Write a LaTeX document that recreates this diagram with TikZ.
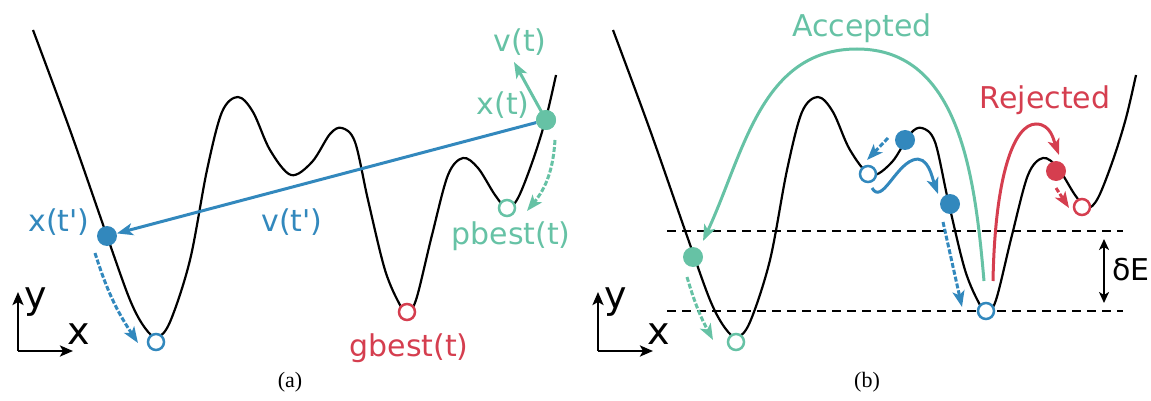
\documentclass[tikz,border=0pt]{standalone}
\usepackage{fontspec}
\setmainfont{DejaVu Sans}[Ligatures=TeXOff]
\newfontfamily\capfont{Liberation Serif}
\usetikzlibrary{arrows.meta}
\definecolor{cg}{HTML}{66C2A5}
\definecolor{cb}{HTML}{3288BD}
\definecolor{cr}{HTML}{D53E4F}
\begin{document}
\begin{tikzpicture}[x=1pt,y=-1pt,
 land/.style={black, line width=2.2pt},
 fdot/.style={circle, fill=#1, minimum size=20pt, inner sep=0pt},
 odot/.style={circle, draw=#1, fill=white, line width=2.5pt, minimum size=16pt, inner sep=0pt},
 arr/.style={draw=#1, line width=3pt, -{Stealth[length=16pt,width=12pt,inset=4pt]}},
 darr/.style={arr=#1, dash pattern=on 5pt off 2pt},
 lab/.style={text=#1, font=\fontsize{30}{36}\selectfont, inner sep=0pt},
 axl/.style={font=\fontsize{38}{44}\selectfont, inner sep=0pt},
 axarr/.style={black, line width=2.5pt, -{Stealth[length=13pt,width=11pt,inset=3pt]}},
 hline/.style={black, line width=2pt, dash pattern=on 9pt off 6pt},
 captxt/.style={font=\capfont\fontsize{22}{26}\selectfont, inner sep=0pt},
]
\useasboundingbox (0,0) rectangle (1151,401);
% landscapes
\foreach \dx in {0,580}{
\draw[land, xshift=\dx pt] plot[smooth, tension=0.55] coordinates {
 (33,30) (70,130) (107,236) (130,300) (145,328) (157,337) (170,322)
 (190,260) (207,170) (222,112) (238,97) (253,112) (270,150) (291,175)
 (312,162) (330,134) (342,128) (355,142) (368,200) (385,270) (400,305)
 (407,311) (416,300) (432,235) (448,175) (463,158) (478,168) (495,195)
 (507,208) (518,198) (533,160) (546,118) (556,75)};
}
% ---------- panel (a)
\node[fdot=cb] (xtp) at (107,236) {};
\node[odot=cb] (ma) at (156,342) {};
\node[odot=cr] (gb) at (407,312) {};
\node[odot=cg] (pb) at (507,208) {};
\node[fdot=cg] (xt) at (546,120) {};
\coordinate (vt) at (514,62);
\coordinate (pbs) at (555,140);
\coordinate (pbe) at (527,211);
\coordinate (mas) at (95,253);
\coordinate (mae) at (138,343);
\draw[arr=cb] (xt) -- (xtp);
\draw[arr=cg] (xt.center) -- (vt);
\node[fdot=cg] at (xt) {};
\draw[darr=cg] (pbs) to[bend left=18] (pbe);
\draw[darr=cb] (mas) to[bend right=8] (mae);
\node[lab=cb] (lxtp) at (59,222) {x(t')};
\node[lab=cb] (lvtp) at (292,222) {v(t')};
\node[lab=cg] (lvt) at (520,42) {v(t)};
\node[lab=cg] (lxt) at (503,105) {x(t)};
\node[lab=cg] (lpb) at (511,236) {pbest(t)};
\node[lab=cr] (lgb) at (409,348) {gbest(t)};
% axes a
\coordinate (oa) at (18,351);
\coordinate (ya) at (18,292);
\coordinate (xa) at (73,351);
\draw[axarr] (oa) -- (ya);
\draw[axarr] (oa) -- (xa);
\node[axl] (lya) at (36,302) {y};
\node[axl] (lxa) at (79,334) {x};
\node[captxt] (capa) at (290,382) {(a)};
% ---------- panel (b)
\coordinate (hl1) at (667,231);
\coordinate (hr1) at (1123,231);
\coordinate (hl2) at (667,311);
\coordinate (hr2) at (1123,311);
\draw[hline] (hl1) -- (hr1);
\draw[hline] (hl2) -- (hr2);
\coordinate (de1) at (1104,239);
\coordinate (de2) at (1104,303);
\draw[black, line width=2.5pt, {Stealth[length=11pt,width=10pt,inset=3pt]}-{Stealth[length=11pt,width=10pt,inset=3pt]}] (de1) -- (de2);
\node[lab=black] (lde) at (1131,270) {δE};
\node[fdot=cg] (gd) at (693,257) {};
\node[odot=cg] (go) at (736,342) {};
\node[fdot=cb] (bd1) at (905,140) {};
\node[odot=cb] (bo1) at (868,174) {};
\node[fdot=cb] (bd2) at (950,204) {};
\node[odot=cb] (bo2) at (986,311) {};
\node[fdot=cr] (rd) at (1056,171) {};
\node[odot=cr] (ro) at (1082,207) {};
% accepted arc
\coordinate (acs) at (984,281);
\coordinate (acap) at (857,49);
\coordinate (ace) at (703,241);
\draw[arr=cg] (acs) to[out=95,in=0] (acap) to[out=180,in=65] (ace);
% rejected arc
\coordinate (rjs) at (993,281);
\coordinate (rjap) at (1036,124);
\coordinate (rje) at (1059,155);
\draw[arr=cr] (rjs) .. controls (995,175) and (1014,124) .. (rjap) to[out=0,in=110] (rje);
% small arrows
\coordinate (gs) at (687,277);
\coordinate (ge) at (713,340);
\draw[darr=cg] (gs) to[bend right=6] (ge);
\coordinate (b1s) at (888,138);
\coordinate (b1e) at (867,160);
\draw[darr=cb] (b1s) -- (b1e);
\coordinate (b2s) at (872,188);
\coordinate (b2p) at (913,160);
\coordinate (b2e) at (938,194);
\draw[arr=cb] (b2s) to[out=-60,in=200] (b2p) to[out=20,in=110] (b2e);
\coordinate (b3s) at (943,222);
\coordinate (b3e) at (962,307);
\draw[darr=cb] (b3s) -- (b3e);
\coordinate (r1s) at (1056,188);
\coordinate (r1e) at (1069,208);
\draw[darr=cr] (r1s) -- (r1e);
\node[lab=cg] (lacc) at (862,28) {Accepted};
\node[lab=cr] (lrej) at (1045,100) {Rejected};
% axes b
\coordinate (ob) at (598,351);
\coordinate (yb) at (598,292);
\coordinate (xb) at (653,351);
\draw[axarr] (ob) -- (yb);
\draw[axarr] (ob) -- (xb);
\node[axl] (lyb) at (616,302) {y};
\node[axl] (lxb) at (659,334) {x};
\node[captxt] (capb) at (867,382) {(b)};
\end{tikzpicture}
\end{document}
